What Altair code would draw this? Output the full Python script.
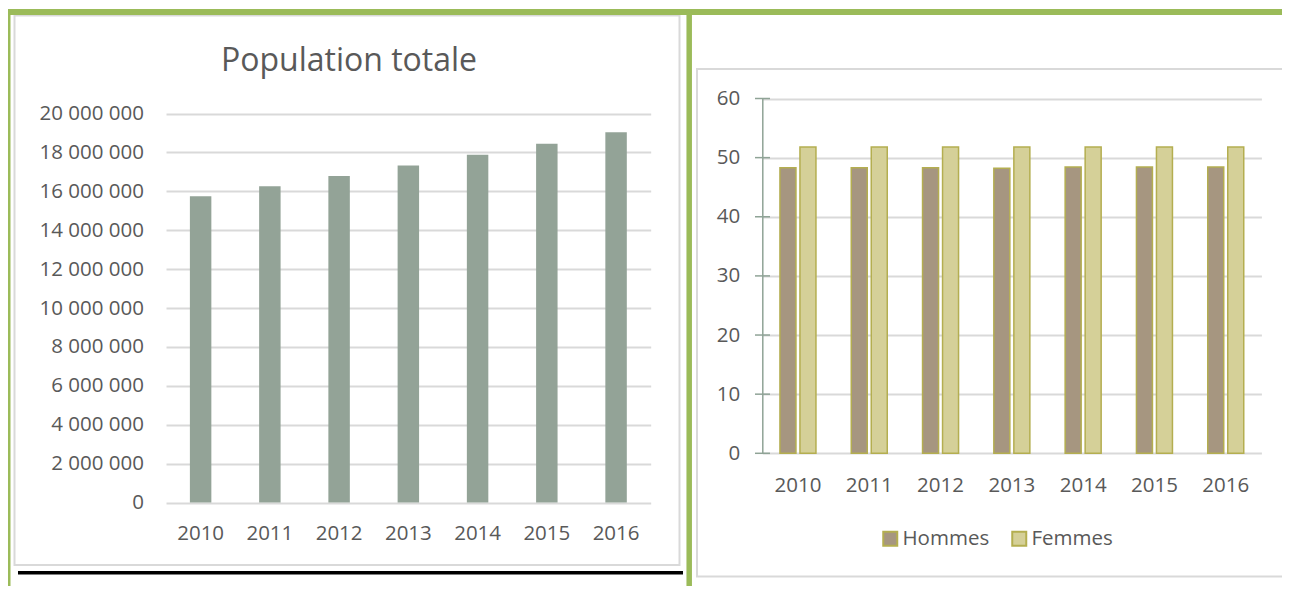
import altair as alt
import pandas as pd

# ---------------- data ----------------
years = ["2010", "2011", "2012", "2013", "2014", "2015", "2016"]
population = [15740000, 16260000, 16790000, 17330000, 17880000, 18450000, 19030000]
hommes = [48.3, 48.3, 48.3, 48.2, 48.4, 48.4, 48.4]
femmes = [51.8, 51.8, 51.8, 51.8, 51.8, 51.8, 51.8]
sexes = ["Hommes", "Femmes"]
pop_ticks = [0, 2000000, 4000000, 6000000, 8000000, 10000000,
             12000000, 14000000, 16000000, 18000000, 20000000]
pct_ticks = [0, 10, 20, 30, 40, 50, 60]
title_text = "Population totale"

pop_df = pd.DataFrame({"annee": years, "population": population})
sex_df = pd.DataFrame({
    "annee": years + years,
    "sexe": [sexes[0]] * len(years) + [sexes[1]] * len(years),
    "pct": hommes + femmes,
})
tick_df = pd.DataFrame({"pct": pct_ticks})
title_df = pd.DataFrame({"t": [title_text]})

# ---------------- layout ----------------
W, H = 1274, 578
M = 8  # page margin


def px(v):
    return v - M


FONT = "Open Sans"
TXT = "#595959"
GRID = "#D9D9D9"
GREEN = "#9BBB59"
AXIS_GREEN = "#8FA396"
OLIVE = "#B4AE50"

# ---------------- decorations ----------------
def hrule(y, x1, x2, color, w):
    return alt.Chart().mark_rule(color=color, strokeWidth=w).encode(
        y=alt.value(y), x=alt.value(x1), x2=alt.value(x2))


def vrule(x, y1, y2, color, w):
    return alt.Chart().mark_rule(color=color, strokeWidth=w).encode(
        x=alt.value(x), y=alt.value(y1), y2=alt.value(y2))


def box(x1, x2, y1, y2, color, w):
    return alt.Chart().mark_rect(fillOpacity=0, stroke=color, strokeWidth=w).encode(
        x=alt.value(x1), x2=alt.value(x2), y=alt.value(y1), y2=alt.value(y2))


deco = [
    box(px(14.5), px(679.5), px(15.5), px(565), GRID, 2),
    box(px(697), px(1289), px(69), px(576.5), GRID, 2),
    hrule(px(12), 0, W, GREEN, 6),
    vrule(0, px(9), H, GREEN, 5),
    vrule(px(689.2), px(9), H, GREEN, 5.5),
    hrule(px(572.7), px(18), px(683), "#000000", 3.5),
]

# ---------------- left chart ----------------
title_mark = alt.Chart(title_df).mark_text(
    font=FONT, fontSize=32, color=TXT, align="center", baseline="alphabetic"
).encode(text="t:N", x=alt.value(px(349)), y=alt.value(px(71)))

left = alt.Chart(pop_df).mark_bar(color="#93A397").encode(
    x=alt.X(
        "annee:N", sort=years,
        scale=alt.Scale(range=[px(166), px(650.7)], paddingInner=0.69, paddingOuter=0.345),
        axis=alt.Axis(title=None, orient="bottom", offset=px(502.5) - H, domain=False,
                      ticks=False, grid=False, labelPadding=21, labelAngle=0),
    ),
    y=alt.Y(
        "population:Q",
        scale=alt.Scale(domain=[0, 20000000], range=[px(502.5), px(113.5)], nice=False),
        axis=alt.Axis(title=None, orient="left", offset=-px(166), values=pop_ticks,
                      domain=False, ticks=False, labelPadding=22.5, grid=True,
                      gridColor=GRID, gridWidth=2,
                      labelExpr="replace(format(datum.value, ','), regexp(',', 'g'), ' ')"),
    ),
)

# ---------------- right chart ----------------
right_bars = alt.Chart(sex_df).mark_bar(stroke=OLIVE, strokeWidth=1.5).encode(
    x=alt.X(
        "annee:N", sort=years,
        scale=alt.Scale(range=[px(762.3), px(1261.4)], paddingInner=0.495, paddingOuter=0.2475),
        axis=alt.Axis(title=None, orient="bottom", offset=px(453.3) - H, domain=False,
                      ticks=False, grid=False, labelPadding=22, labelAngle=0),
    ),
    xOffset=alt.XOffset("sexe:N", sort=sexes,
                        scale=alt.Scale(paddingInner=0.2, paddingOuter=0)),
    y=alt.Y(
        "pct:Q",
        scale=alt.Scale(domain=[0, 60], range=[px(453.3), px(98.5)], nice=False),
        axis=alt.Axis(title=None, orient="left", offset=-px(762.3), values=pct_ticks,
                      domain=True, domainColor=AXIS_GREEN, domainWidth=1.5,
                      ticks=False, labelPadding=22.5, grid=True,
                      gridColor=GRID, gridWidth=2),
    ),
    color=alt.Color(
        "sexe:N", sort=sexes,
        scale=alt.Scale(domain=sexes, range=["#A69680", "#D5D098"]),
        legend=alt.Legend(orient="none", legendX=px(880), legendY=px(528),
                          direction="horizontal", title=None, symbolType="square",
                          symbolSize=196, symbolStrokeColor=OLIVE, symbolStrokeWidth=2,
                          symbolOpacity=1, labelFont=FONT, labelFontSize=20.5,
                          labelColor=TXT, columnPadding=18, labelOffset=2),
    ),
)

right_ticks = alt.Chart(tick_df).mark_rule(color=AXIS_GREEN, strokeWidth=1.5).encode(
    y=alt.Y("pct:Q"), x=alt.value(px(755)), x2=alt.value(px(770))
)

right = alt.layer(right_bars, right_ticks)

chart = alt.layer(*deco, title_mark, left, right).resolve_scale(
    x="independent", y="independent", color="independent", xOffset="independent"
).resolve_axis(
    x="independent", y="independent"
).properties(
    width=W, height=H, padding=0,
    autosize=alt.AutoSizeParams(type="none"),
).configure_view(
    stroke=None
).configure_axis(
    labelFont=FONT, labelFontSize=20.5, labelColor=TXT
)

chart.save("out.html", embed_options={"renderer": "svg", "actions": False})
